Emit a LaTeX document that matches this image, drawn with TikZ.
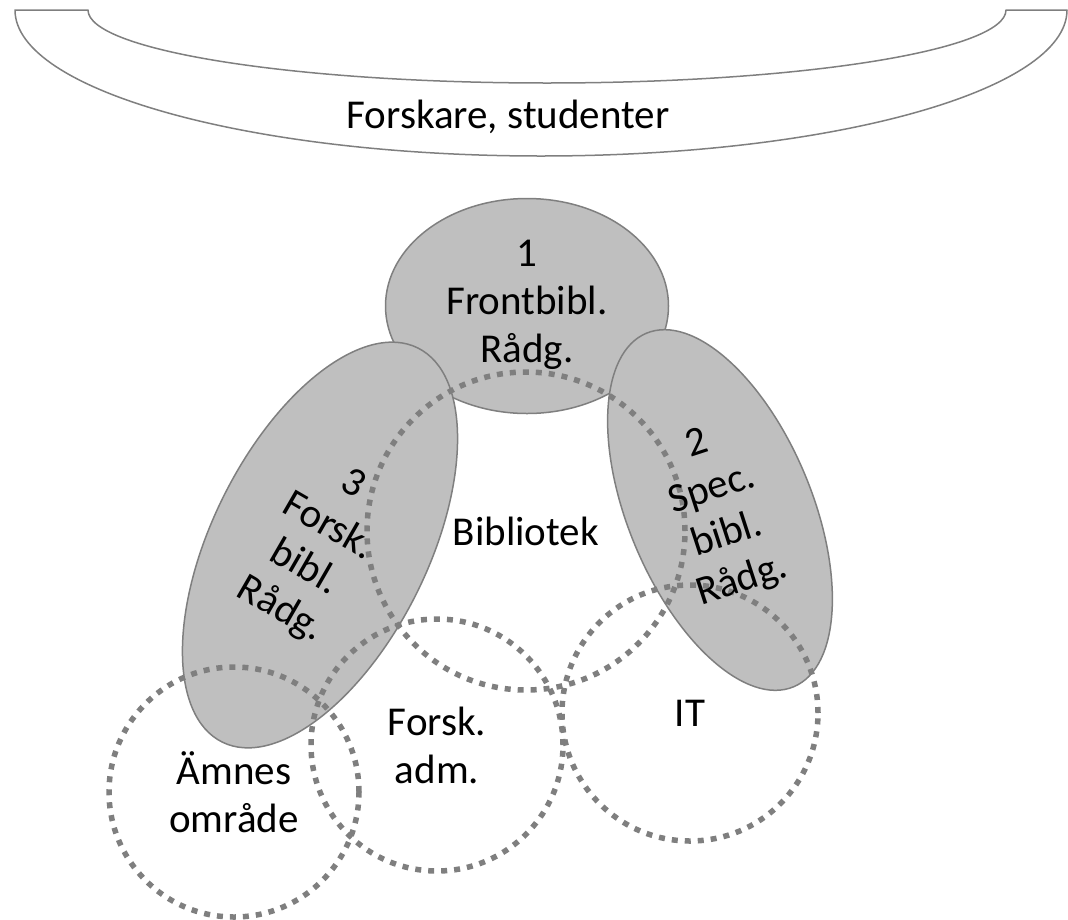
\documentclass[tikz,border=0pt]{standalone}
\usepackage{fontspec}
\setmainfont{Carlito}
\usetikzlibrary{shapes.geometric}
\definecolor{linegray}{RGB}{127,127,127}
\definecolor{blobgray}{RGB}{191,191,191}

\begin{document}
\begin{tikzpicture}[x=1pt,y=-1pt,
    band/.style={draw=linegray, line width=1.5pt, line join=round},
    blob/.style={ellipse, draw=linegray, fill=blobgray, line width=1.5pt, inner sep=0pt},
    area/.style={circle, draw=linegray, line width=5.5pt, dash pattern=on 6pt off 7pt, inner sep=0pt},
    lbl/.style={align=center, font=\fontsize{41}{48}\selectfont, inner sep=0pt}]
        \useasboundingbox (0,0) rectangle (1068,919);
        %
        \draw [band] (15,10) arc[start angle=180, end angle=0, x radius=526, y radius=146]
        -- (1006,10) arc[start angle=0, end angle=180, x radius=459, y radius=73] -- cycle;
        \node [lbl] (users) at (508,117) {Forskare, studenter};
        %
        \node [blob, minimum width=283, minimum height=215] (front) at (527,306) {};
        \node [blob, minimum width=440, minimum height=216, rotate=63.6] (forskbibl) at (320,545) {};
        \node [blob, minimum width=383, minimum height=184, rotate=-67.4] (specbibl) at (720,510) {};
        %
        \node [area, minimum size=318] (bibl) at (526,531) {};
        \node [area, minimum size=252] (adm) at (437,745) {};
        \node [area, minimum size=250] (amne) at (234,792) {};
        \node [area, minimum size=256] (it) at (690,713) {};
        %
        \node [lbl] (front-txt) at (527,305) {1\\Frontbibl.\\Rådg.};
        \node [lbl, rotate=-30] (forskbibl-txt) at (316,548) {3\\Forsk.\\bibl.\\Rådg.};
        \node [lbl, rotate=18] (specbibl-txt) at (720,513) {2\\Spec.\\bibl.\\Rådg.};
        \node [lbl] (bibl-txt) at (bibl) {Bibliotek};
        \node [lbl] (adm-txt) at (adm) {Forsk.\\adm.};
        \node [lbl] (amne-txt) at (amne) {Ämnes\\område};
        \node [lbl] (it-txt) at (it) {IT};
      \end{tikzpicture}
\end{document}
